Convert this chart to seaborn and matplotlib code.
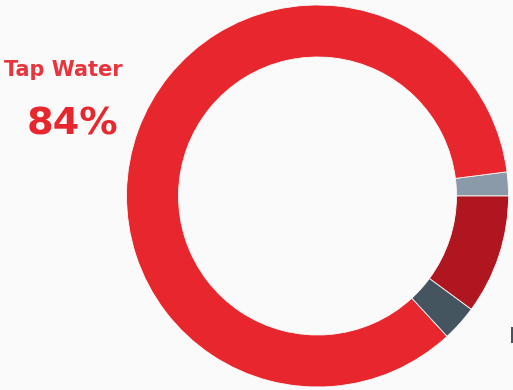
import matplotlib
matplotlib.use("Agg")
import matplotlib.pyplot as plt
from matplotlib.patches import Rectangle
import seaborn as sns

# Data (counter-clockwise from 3 o'clock)
categories = ["Other", "Tap Water", "Filtered", "Bottled"]
values = [2, 84, 3, 10]
colors = ["#8A9AA8", "#E8262D", "#455560", "#B0161F"]
label_text = "Tap Water"
label_value = "84%"

sns.set_theme(style="white")
plt.rcParams['font.family'] = ['DejaVu Sans']

W, H = 513, 390
fig = plt.figure(figsize=(W / 100, H / 100), dpi=100)
fig.patch.set_facecolor("#FAFAFA")
ax = fig.add_axes([0, 0, 1, 1])
ax.set_facecolor("#FAFAFA")

ax.pie(values, colors=colors, startangle=0, counterclock=True,
       center=(317.5, H - 196), radius=191, frame=True,
       wedgeprops=dict(width=52, linewidth=0.6, edgecolor="#FAFAFA"))
ax.set_xlim(0, W)
ax.set_ylim(0, H)
ax.set_aspect("equal")
ax.axis("off")

ax.text(4, H - 76.5, label_text, color="#E8343C", fontsize=15,
        fontweight="bold", ha="left", va="baseline")
ax.text(27, H - 134.5, label_value, color="#E8262D", fontsize=27.5,
        fontweight="bold", ha="left", va="baseline")
# edge of a label cut off at the right border (decoration)
ax.add_patch(Rectangle((511, H - 343), 3, 16, color="#455560", lw=0))

fig.savefig("out.png", dpi=100, facecolor=fig.get_facecolor())
